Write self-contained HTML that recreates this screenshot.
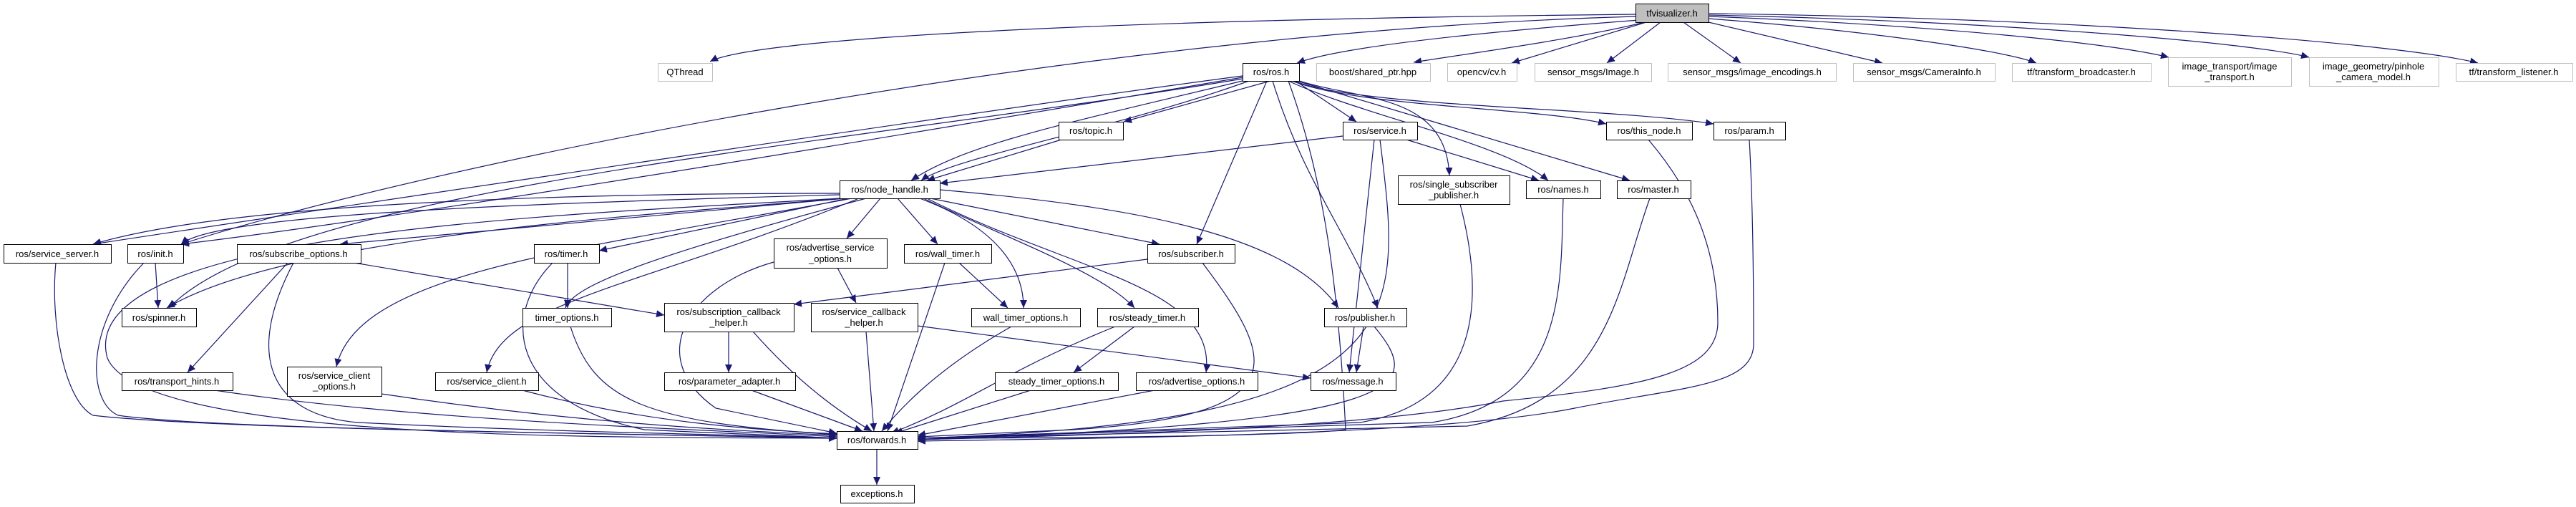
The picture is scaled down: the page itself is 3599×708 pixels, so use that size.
<!DOCTYPE html>
<html><head><meta charset="utf-8"><style>
html,body{margin:0;padding:0;background:#fff;width:3599px;height:708px;overflow:hidden}
svg{position:absolute;left:0;top:0}
text{font-family:"Liberation Sans",sans-serif;font-size:13px;fill:#000}
</style></head><body>
<svg width="3599" height="708" viewBox="0 0 3599 708" xmlns="http://www.w3.org/2000/svg">
<defs><marker id="a" markerUnits="userSpaceOnUse" markerWidth="12" markerHeight="10" refX="11" refY="5" orient="auto"><path d="M0,0 L11,5 L0,10 z" fill="#191970"/></marker></defs>
<g fill="none" stroke="#191970" stroke-width="1.2" marker-end="url(#a)">
<!-- tfvisualizer -->
<path d="M2285,20 C1500,28 1050,55 992,86"/>
<path d="M2290,28 C2000,50 1860,70 1812,88"/>
<path d="M2285,23 C1500,45 600,230 253,341"/>
<path d="M2298,31 C2200,55 2050,75 1975,87"/>
<path d="M2300,31 L2112,88"/>
<path d="M2320,31 L2245,88"/>
<path d="M2352,31 L2432,88"/>
<path d="M2387,31 L2630,88"/>
<path d="M2387,26 C2600,42 2800,70 2845,88"/>
<path d="M2387,23 C2700,35 2950,60 3030,80"/>
<path d="M2387,21 C2800,30 3150,60 3226,80"/>
<path d="M2387,19 C2900,25 3350,60 3462,88"/>
<!-- ros.h -->
<path d="M1736,106 C1400,150 400,300 130,341"/>
<path d="M1736,108 C1400,165 600,300 253,341"/>
<path d="M1736,110 C1200,200 400,260 236,430"/>
<path d="M1775,113 L1570,170"/>
<path d="M1740,112 C1500,170 1350,200 1273,252"/>
<path d="M1745,113 C1560,180 1330,220 1287,252"/>
<path d="M1810,113 L1895,170"/>
<path d="M1770,113 L1672,341"/>
<path d="M1778,113 C1820,250 1880,320 1925,430"/>
<path d="M1800,113 C1900,160 2100,200 2163,252"/>
<path d="M1805,113 C1900,150 2150,150 2244,173"/>
<path d="M1808,113 C1900,150 2250,150 2394,173"/>
<path d="M1812,113 L2277,252"/>
<path d="M1815,113 C1900,140 2020,130 2025,245"/>
<path d="M1800,113 C1850,250 1870,400 1880,600 C1800,610 1400,612 1282,612"/>
<!-- topic, service -->
<path d="M1483,195 L1295,252"/>
<path d="M1876,190 L1313,256"/>
<path d="M1965,195 L2150,252"/>
<path d="M1920,195 L1885,520"/>
<path d="M1928,195 C1960,450 1980,590 1282,612"/>
<!-- node_handle -->
<path d="M1173,272 C700,285 300,300 253,341"/>
<path d="M1173,270 C700,270 300,290 130,341"/>
<path d="M1180,277 C900,300 400,330 233,430"/>
<path d="M1180,277 L475,341"/>
<path d="M1185,277 L837,350"/>
<path d="M1230,277 L1183,333"/>
<path d="M1254,277 L1310,341"/>
<path d="M1285,277 C1400,320 1430,380 1430,430"/>
<path d="M1290,277 C1400,330 1540,380 1585,430"/>
<path d="M1300,277 L1620,341"/>
<path d="M1313,265 C1600,290 1800,330 1870,430"/>
<path d="M1295,277 C1500,380 1700,400 1685,520"/>
<path d="M1200,277 C900,400 700,420 680,520"/>
<path d="M1190,277 C800,350 500,380 470,512"/>
<path d="M1210,277 C900,360 800,400 790,430"/>
<path d="M1173,277 C800,300 100,320 150,500 C200,620 900,610 1169,612"/>
<!-- second level -->
<path d="M78,367 C70,450 90,560 130,580 C300,600 900,606 1169,612"/>
<path d="M201,367 C120,450 120,560 165,580 C300,600 900,606 1169,612"/>
<path d="M217,367 L221,430"/>
<path d="M402,367 L262,520"/>
<path d="M410,367 C340,500 380,580 500,590 C800,605 1100,608 1169,612"/>
<path d="M495,367 L928,440"/>
<path d="M772,367 C700,440 710,560 900,600 C1000,605 1100,608 1169,612"/>
<path d="M793,367 L793,430"/>
<path d="M1081,366 C960,400 900,500 1000,570 L1169,605"/>
<path d="M1170,374 L1196,423"/>
<path d="M1320,367 L1240,602"/>
<path d="M1340,367 L1408,430"/>
<path d="M1603,362 L1109,425"/>
<path d="M1680,367 C1780,500 1820,580 1500,600 L1282,610"/>
<path d="M1018,463 L1018,520"/>
<path d="M1052,463 C1120,540 1180,580 1218,602"/>
<path d="M1210,463 L1221,602"/>
<path d="M1282,455 L1831,528"/>
<path d="M1413,456 C1300,520 1250,580 1232,602"/>
<path d="M1558,456 C1400,520 1360,560 1245,605"/>
<path d="M1585,456 L1500,520"/>
<path d="M1905,456 L1895,520"/>
<path d="M1920,456 C1990,540 1980,590 1282,614"/>
<path d="M1050,545 L1205,602"/>
<path d="M1440,545 L1250,605"/>
<path d="M1613,545 L1282,608"/>
<path d="M300,545 C600,590 1000,600 1169,610"/>
<path d="M533,550 C800,590 1000,600 1169,608"/>
<path d="M730,545 C900,590 1050,600 1169,606"/>
<path d="M797,456 C830,560 900,590 1169,607"/>
<path d="M2040,285 C2070,400 2080,560 1900,590 L1282,612"/>
<path d="M2184,277 C2180,400 2190,560 2000,590 L1282,612"/>
<path d="M2305,277 C2260,400 2250,560 2050,595 L1282,612"/>
<path d="M2303,195 C2350,250 2400,330 2400,450 C2400,520 2300,540 2100,560 C1900,600 1500,608 1282,614"/>
<path d="M2444,195 C2450,300 2450,450 2450,480 C2450,540 2350,540 2200,570 C2000,610 1500,612 1282,616"/>
<path d="M1225,627 L1225,677"/>
</g>
<g stroke-width="1">
<rect x="2285.5" y="5.5" width="102" height="26" fill="#bfbfbf" stroke="#000"/>
<g fill="#fff" stroke="#bfbfbf">
<rect x="919.5" y="88.5" width="76" height="25"/>
<rect x="1839.5" y="88.5" width="159" height="25"/>
<rect x="2022.5" y="88.5" width="97" height="25"/>
<rect x="2144.5" y="88.5" width="163" height="25"/>
<rect x="2330.5" y="88.5" width="235" height="25"/>
<rect x="2589.5" y="88.5" width="198" height="25"/>
<rect x="2811.5" y="88.5" width="194" height="25"/>
<rect x="3029.5" y="80.5" width="172" height="40"/>
<rect x="3226.5" y="80.5" width="181" height="40"/>
<rect x="3431.5" y="88.5" width="163" height="25"/>
</g>
<g fill="#fff" stroke="#000">
<rect x="1736.5" y="88.5" width="79" height="25"/>
<rect x="1479.5" y="170.5" width="90" height="25"/>
<rect x="1876.5" y="170.5" width="104" height="25"/>
<rect x="2244.5" y="170.5" width="120" height="25"/>
<rect x="2394.5" y="170.5" width="100" height="25"/>
<rect x="1173.5" y="252.5" width="140" height="25"/>
<rect x="1953.5" y="245.5" width="156" height="40"/>
<rect x="2132.5" y="252.5" width="104" height="25"/>
<rect x="2259.5" y="252.5" width="103" height="25"/>
<rect x="5.5" y="341.5" width="150" height="26"/>
<rect x="178.5" y="341.5" width="78" height="26"/>
<rect x="331.5" y="341.5" width="173" height="26"/>
<rect x="746.5" y="341.5" width="91" height="26"/>
<rect x="1081.5" y="333.5" width="158" height="41"/>
<rect x="1263.5" y="341.5" width="122" height="26"/>
<rect x="1603.5" y="341.5" width="122" height="26"/>
<rect x="1850.5" y="430.5" width="115" height="26"/>
<rect x="170.5" y="430.5" width="104" height="26"/>
<rect x="730.5" y="430.5" width="124" height="26"/>
<rect x="928.5" y="423.5" width="181" height="40"/>
<rect x="1133.5" y="423.5" width="149" height="40"/>
<rect x="1357.5" y="430.5" width="152" height="26"/>
<rect x="1533.5" y="430.5" width="141" height="26"/>
<rect x="170.5" y="520.5" width="155" height="25"/>
<rect x="401.5" y="512.5" width="132" height="41"/>
<rect x="608.5" y="520.5" width="144" height="25"/>
<rect x="928.5" y="520.5" width="183" height="25"/>
<rect x="1390.5" y="520.5" width="172" height="25"/>
<rect x="1587.5" y="520.5" width="170" height="25"/>
<rect x="1831.5" y="520.5" width="119" height="25"/>
<rect x="1169.5" y="602.5" width="113" height="25"/>
<rect x="1174.5" y="677.5" width="103" height="25"/>
</g></g>
<g text-anchor="middle">
<text x="2336" y="23">tfvisualizer.h</text>
<text x="957" y="105">QThread</text>
<text x="1776" y="105">ros/ros.h</text>
<text x="1918" y="105">boost/shared_ptr.hpp</text>
<text x="2070" y="105">opencv/cv.h</text>
<text x="2226" y="105">sensor_msgs/Image.h</text>
<text x="2448" y="105">sensor_msgs/image_encodings.h</text>
<text x="2688" y="105">sensor_msgs/CameraInfo.h</text>
<text x="2908" y="105">tf/transform_broadcaster.h</text>
<text x="3115" y="97">image_transport/image</text>
<text x="3115" y="112">_transport.h</text>
<text x="3316" y="97">image_geometry/pinhole</text>
<text x="3316" y="112">_camera_model.h</text>
<text x="3512" y="105">tf/transform_listener.h</text>
<text x="1524" y="187">ros/topic.h</text>
<text x="1928" y="187">ros/service.h</text>
<text x="2304" y="187">ros/this_node.h</text>
<text x="2444" y="187">ros/param.h</text>
<text x="1243" y="269">ros/node_handle.h</text>
<text x="2031" y="262">ros/single_subscriber</text>
<text x="2031" y="277">_publisher.h</text>
<text x="2184" y="269">ros/names.h</text>
<text x="2310" y="269">ros/master.h</text>
<text x="80" y="359">ros/service_server.h</text>
<text x="217" y="359">ros/init.h</text>
<text x="417" y="359">ros/subscribe_options.h</text>
<text x="791" y="359">ros/timer.h</text>
<text x="1160" y="350">ros/advertise_service</text>
<text x="1160" y="366">_options.h</text>
<text x="1324" y="359">ros/wall_timer.h</text>
<text x="1664" y="359">ros/subscriber.h</text>
<text x="1907" y="448">ros/publisher.h</text>
<text x="222" y="448">ros/spinner.h</text>
<text x="792" y="448">timer_options.h</text>
<text x="1018" y="440">ros/subscription_callback</text>
<text x="1018" y="455">_helper.h</text>
<text x="1207" y="440">ros/service_callback</text>
<text x="1207" y="455">_helper.h</text>
<text x="1433" y="448">wall_timer_options.h</text>
<text x="1603" y="448">ros/steady_timer.h</text>
<text x="247" y="537">ros/transport_hints.h</text>
<text x="467" y="529">ros/service_client</text>
<text x="467" y="544">_options.h</text>
<text x="680" y="537">ros/service_client.h</text>
<text x="1019" y="537">ros/parameter_adapter.h</text>
<text x="1476" y="537">steady_timer_options.h</text>
<text x="1672" y="537">ros/advertise_options.h</text>
<text x="1890" y="537">ros/message.h</text>
<text x="1225" y="619">ros/forwards.h</text>
<text x="1225" y="694">exceptions.h</text>
</g>
</svg>
</body></html>
